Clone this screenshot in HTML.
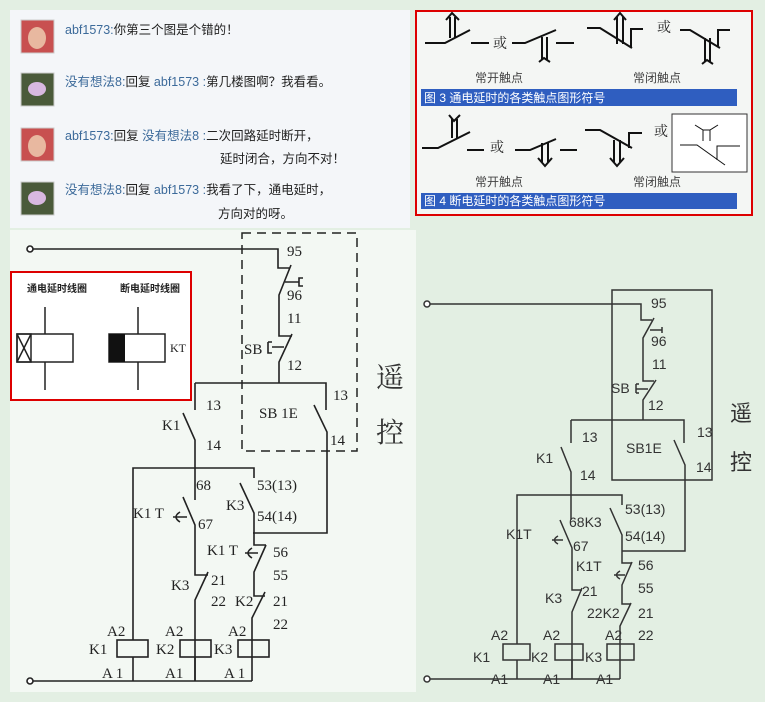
<!DOCTYPE html>
<html><head><meta charset="utf-8"><style>
html,body{margin:0;padding:0;background:#e3efe3;}
svg{display:block}
.cn{font-family:"Liberation Sans","Noto Sans CJK SC",sans-serif;}
.sf{font-family:"Liberation Serif","Noto Serif CJK SC",serif;}
</style></head><body>
<svg width="765" height="702" viewBox="0 0 765 702" xmlns="http://www.w3.org/2000/svg">
<rect width="765" height="702" fill="#e3efe3"/>
<!-- chat panel -->
<rect x="10" y="10" width="400" height="218" fill="#f4f6f9"/>
<g>
<rect x="21" y="20" width="33" height="33" fill="#c85050" stroke="#ccc"/><ellipse cx="37" cy="38" rx="9" ry="11" fill="#e8b8a0"/>
<rect x="21" y="73" width="33" height="33" fill="#4a5a3a" stroke="#ccc"/><ellipse cx="37" cy="89" rx="9" ry="7" fill="#d8b8e0"/>
<rect x="21" y="128" width="33" height="33" fill="#c85050" stroke="#ccc"/><ellipse cx="37" cy="146" rx="9" ry="11" fill="#e8b8a0"/>
<rect x="21" y="182" width="33" height="33" fill="#4a5a3a" stroke="#ccc"/><ellipse cx="37" cy="198" rx="9" ry="7" fill="#d8b8e0"/>
</g>
<g class="cn" font-size="12.5" fill="#222">
<text x="65" y="34"><tspan fill="#3c6a9a">abf1573:</tspan>你第三个图是个错的！</text>
<text x="65" y="86"><tspan fill="#3c6a9a">没有想法8:</tspan>回复 <tspan fill="#3c6a9a">abf1573 :</tspan>第几楼图啊？我看看。</text>
<text x="65" y="140"><tspan fill="#3c6a9a">abf1573:</tspan>回复 <tspan fill="#3c6a9a">没有想法8 :</tspan>二次回路延时断开，</text>
<text x="220" y="163">延时闭合，方向不对！</text>
<text x="65" y="194"><tspan fill="#3c6a9a">没有想法8:</tspan>回复 <tspan fill="#3c6a9a">abf1573 :</tspan>我看了下，通电延时，</text>
<text x="218" y="218">方向对的呀。</text>
</g>
<!-- top right red box -->
<rect x="416" y="11" width="336" height="204" fill="#f4f6f4" stroke="#d00" stroke-width="2"/>
<g stroke="#111" stroke-width="2" fill="none">
<path d="M425 43H445L470 30M471 43H489M512 43H525L556 30M556 43H574"/>
<path d="M450 38V17M455 38V17M446 20L452 13L459 20"/>
<path d="M542 37V60M547 37V60M539 62L544 58L550 62"/>
<path d="M587 28H600L632 48M617 44V17M623 44V17M614 20L620 13L626 20M631 47V29H643"/>
<path d="M680 30H690L720 48M718 46V30H730M705 38V62M710 38V62M702 64L707 60L713 64"/>
<path d="M422 148H438L470 132M467 150H484M515 150H530L556 139M560 150H577"/>
<path d="M452 138V119M457 138V119M449 115L454 121L460 115"/>
<path d="M542 143V162M548 143V162M538 158L545 166L552 158"/>
<path d="M585 130H600L632 148M614 140V162M620 140V162M610 158L617 166L624 158M629 148V133H642"/>
</g>
<rect x="672" y="114" width="75" height="58" fill="#fff" stroke="#333"/>
<path d="M680 145H697L725 165M703 141V130M710 141V130M695 125L703 130L710 130L718 125M717 160V146H740" stroke="#111" fill="none"/>
<g class="sf" font-size="14" fill="#222"><text x="493" y="48">或</text><text x="657" y="32">或</text><text x="490" y="152">或</text><text x="654" y="136">或</text></g>
<g class="cn" font-size="12" fill="#444"><text x="475" y="82">常开触点</text><text x="633" y="82">常闭触点</text><text x="475" y="186">常开触点</text><text x="633" y="186">常闭触点</text></g>
<rect x="421" y="89" width="316" height="17" fill="#2f5ec0"/>
<rect x="421" y="193" width="316" height="16" fill="#2f5ec0"/>
<g class="cn" font-size="12" fill="#fff"><text x="424" y="102">图 3  通电延时的各类触点图形符号</text><text x="424" y="205">图 4  断电延时的各类触点图形符号</text></g>

<!-- left diagram -->
<rect x="10" y="230" width="406" height="462" fill="#f3f8f3"/>
<rect x="242" y="233" width="115" height="218" fill="none" stroke="#222" stroke-width="1.5" stroke-dasharray="9,6"/>
<g stroke="#222" stroke-width="1.6" fill="none">
<circle cx="30" cy="249" r="3" fill="#fff"/>
<path d="M33 249H278V268H290M291 265L279 295V336H292M292 334L279 362V383"/>
<path d="M285 282H299V278H303M299 282V286H303"/>
<path d="M268 342V353H272M268 342H272M272 347H284"/>
<path d="M195 383H326V410M314 405L327 432V533H253"/>
<path d="M195 383V410M183 413L195 440V500"/>
<path d="M183 497L195 525V575H208M208 572L195 600V681"/>
<path d="M180 512Q172 517 180 522M173 517H187"/>
<path d="M133 640V468H254V478M240 483L254 513V545H266M266 545L254 572V596H265M265 592L252 618V681"/>
<path d="M252 548Q244 553 252 558M245 553H258"/>
<rect x="117" y="640" width="31" height="17"/><rect x="180" y="640" width="31" height="17"/><rect x="238" y="640" width="31" height="17"/>
<path d="M133 657V681M195 657V681"/>
<circle cx="30" cy="681" r="3" fill="#fff"/><path d="M33 681H252"/>
</g>
<g class="sf" font-size="15" fill="#222">
<text x="287" y="256">95</text><text x="287" y="300">96</text><text x="287" y="323">11</text><text x="244" y="354">SB</text><text x="287" y="370">12</text>
<text x="206" y="410">13</text><text x="259" y="418">SB 1E</text><text x="333" y="400">13</text><text x="206" y="450">14</text><text x="330" y="445">14</text><text x="162" y="430">K1</text>
<text x="196" y="490">68</text><text x="257" y="490">53(13)</text><text x="133" y="518">K1 T</text><text x="198" y="529">67</text><text x="226" y="510">K3</text><text x="257" y="521">54(14)</text>
<text x="207" y="555">K1 T</text><text x="273" y="557">56</text><text x="273" y="580">55</text><text x="171" y="590">K3</text><text x="211" y="585">21</text>
<text x="211" y="606">22</text><text x="235" y="606">K2</text><text x="273" y="606">21</text><text x="273" y="629">22</text>
<text x="107" y="636">A2</text><text x="165" y="636">A2</text><text x="228" y="636">A2</text>
<text x="89" y="654">K1</text><text x="156" y="654">K2</text><text x="214" y="654">K3</text>
<text x="102" y="678">A 1</text><text x="165" y="678">A1</text><text x="224" y="678">A 1</text>
</g>
<g class="sf" font-size="28" fill="#333"><text x="376" y="387">遥</text><text x="376" y="442">控</text></g>
<!-- inset -->
<rect x="11" y="272" width="180" height="128" fill="#fff" stroke="#d00" stroke-width="2"/>
<g class="cn" font-size="10" font-weight="bold" fill="#222"><text x="27" y="292">通电延时线圈</text><text x="120" y="292">断电延时线圈</text></g>
<g stroke="#222" stroke-width="1.5" fill="none">
<path d="M45 307V334M45 362V390M138 307V334M138 362V390"/>
<rect x="17" y="334" width="56" height="28"/><rect x="17" y="334" width="14" height="28"/><path d="M17 334L31 362M31 334L17 362"/>
<rect x="109" y="334" width="56" height="28"/>
</g>
<rect x="109" y="334" width="16" height="28" fill="#111"/>
<text x="170" y="352" class="sf" font-size="12" fill="#222">KT</text>

<!-- right diagram -->
<g stroke="#333" stroke-width="1.5" fill="none">
<rect x="612" y="290" width="100" height="190"/>
<circle cx="427" cy="304" r="3" fill="#fff"/>
<path d="M430 304H641V320H652M654 318L643 338V381H654M656 380L643 400V420"/>
<path d="M650 330H662V327M662 330V333"/>
<path d="M636 384V393M636 384H639M636 393H639M636 389H648"/>
<path d="M571 420H684V443M674 440L685 465V551H622"/>
<path d="M571 420V443M561 447L571 472V520M560 520L572 548V590H582M582 588L572 612V679"/>
<path d="M558 536Q551 540 558 544M552 540H563"/>
<path d="M517 644V495H622V505M610 508L622 535V563H632M632 562L622 585V604H631M631 603L620 626V679"/>
<path d="M620 571Q613 575 620 579M614 575H625"/>
<rect x="503" y="644" width="27" height="16"/><rect x="555" y="644" width="28" height="16"/><rect x="607" y="644" width="27" height="16"/>
<path d="M517 660V679M572 660V679"/>
<circle cx="427" cy="679" r="3" fill="#fff"/><path d="M430 679H620"/>
</g>
<g class="cn" font-size="14" fill="#333">
<text x="651" y="308">95</text><text x="651" y="346">96</text><text x="652" y="369">11</text><text x="611" y="393">SB</text><text x="648" y="410">12</text>
<text x="582" y="442">13</text><text x="697" y="437">13</text><text x="626" y="453">SB1E</text><text x="536" y="463">K1</text><text x="580" y="480">14</text><text x="696" y="472">14</text>
<text x="625" y="514">53(13)</text><text x="569" y="527">68K3</text><text x="506" y="539">K1T</text><text x="573" y="551">67</text><text x="625" y="541">54(14)</text>
<text x="576" y="571">K1T</text><text x="638" y="570">56</text><text x="638" y="593">55</text><text x="545" y="603">K3</text><text x="582" y="596">21</text>
<text x="587" y="618">22K2</text><text x="638" y="618">21</text><text x="638" y="640">22</text>
<text x="491" y="640">A2</text><text x="543" y="640">A2</text><text x="605" y="640">A2</text>
<text x="473" y="662">K1</text><text x="531" y="662">K2</text><text x="585" y="662">K3</text>
<text x="491" y="684">A1</text><text x="543" y="684">A1</text><text x="596" y="684">A1</text>
</g>
<g class="cn" font-size="22" fill="#333"><text x="730" y="421">遥</text><text x="730" y="470">控</text></g>
</svg>
</body></html>
